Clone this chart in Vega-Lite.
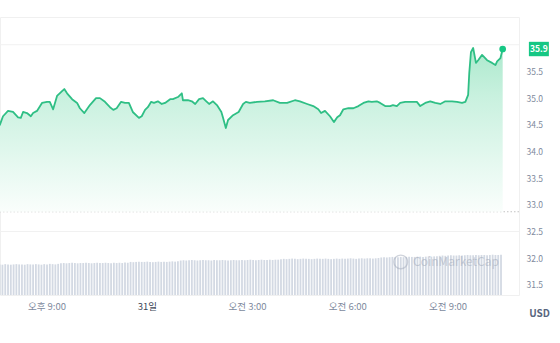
{
  "$schema": "https://vega.github.io/schema/vega-lite/v6.json",
  "width": 519,
  "height": 278,
  "autosize": {"type": "none"},
  "padding": {"left": 0, "top": 17, "right": 41, "bottom": 48},
  "background": "white",
  "config": {"font": "Noto Sans CJK KR", "view": {"stroke": "#f0f0f0"}},
  "datasets": {
    "price": [
      {"m": -265, "v": 34.49}, {"m": -259, "v": 34.66}, {"m": -250, "v": 34.76}, {"m": -241, "v": 34.74},
      {"m": -232, "v": 34.64}, {"m": -227, "v": 34.63}, {"m": -223, "v": 34.74}, {"m": -216, "v": 34.72},
      {"m": -209, "v": 34.66}, {"m": -205, "v": 34.72}, {"m": -198, "v": 34.76}, {"m": -189, "v": 34.91},
      {"m": -180, "v": 34.93}, {"m": -175, "v": 34.93}, {"m": -169, "v": 34.79}, {"m": -162, "v": 35.04},
      {"m": -153, "v": 35.13}, {"m": -149, "v": 35.17}, {"m": -144, "v": 35.09}, {"m": -135, "v": 34.98},
      {"m": -126, "v": 34.91}, {"m": -121, "v": 34.81}, {"m": -113, "v": 34.72}, {"m": -103, "v": 34.87},
      {"m": -92, "v": 35.0}, {"m": -85, "v": 35.0}, {"m": -76, "v": 34.93}, {"m": -67, "v": 34.83},
      {"m": -61, "v": 34.78}, {"m": -55, "v": 34.81}, {"m": -47, "v": 34.93}, {"m": -40, "v": 34.91},
      {"m": -33, "v": 34.91}, {"m": -26, "v": 34.74}, {"m": -15, "v": 34.63}, {"m": -10, "v": 34.66},
      {"m": -4, "v": 34.78}, {"m": 1, "v": 34.83}, {"m": 7, "v": 34.93}, {"m": 12, "v": 34.91},
      {"m": 19, "v": 34.94}, {"m": 26, "v": 34.89}, {"m": 32, "v": 34.91}, {"m": 41, "v": 34.98},
      {"m": 46, "v": 34.98}, {"m": 55, "v": 35.02}, {"m": 62, "v": 35.09}, {"m": 64, "v": 34.96},
      {"m": 73, "v": 34.96}, {"m": 80, "v": 34.94}, {"m": 86, "v": 34.89}, {"m": 93, "v": 34.98},
      {"m": 100, "v": 35.0}, {"m": 106, "v": 34.94}, {"m": 111, "v": 34.89}, {"m": 118, "v": 34.94},
      {"m": 125, "v": 34.87}, {"m": 133, "v": 34.74}, {"m": 136, "v": 34.63}, {"m": 141, "v": 34.44},
      {"m": 145, "v": 34.59}, {"m": 154, "v": 34.68}, {"m": 164, "v": 34.74}, {"m": 172, "v": 34.89},
      {"m": 177, "v": 34.93}, {"m": 184, "v": 34.91}, {"m": 197, "v": 34.93}, {"m": 211, "v": 34.94},
      {"m": 226, "v": 34.96}, {"m": 238, "v": 34.91}, {"m": 251, "v": 34.91}, {"m": 265, "v": 34.96},
      {"m": 274, "v": 34.94}, {"m": 287, "v": 34.89}, {"m": 298, "v": 34.85}, {"m": 307, "v": 34.79},
      {"m": 312, "v": 34.72}, {"m": 319, "v": 34.76}, {"m": 328, "v": 34.66}, {"m": 335, "v": 34.55},
      {"m": 341, "v": 34.64}, {"m": 346, "v": 34.68}, {"m": 352, "v": 34.79}, {"m": 361, "v": 34.81},
      {"m": 370, "v": 34.81}, {"m": 379, "v": 34.85}, {"m": 388, "v": 34.91}, {"m": 397, "v": 34.94},
      {"m": 403, "v": 34.93}, {"m": 412, "v": 34.94}, {"m": 418, "v": 34.91}, {"m": 427, "v": 34.85},
      {"m": 436, "v": 34.85}, {"m": 441, "v": 34.87}, {"m": 448, "v": 34.85}, {"m": 454, "v": 34.91},
      {"m": 463, "v": 34.93}, {"m": 475, "v": 34.93}, {"m": 484, "v": 34.93}, {"m": 490, "v": 34.85},
      {"m": 499, "v": 34.91}, {"m": 508, "v": 34.94}, {"m": 517, "v": 34.91}, {"m": 526, "v": 34.89},
      {"m": 535, "v": 34.94}, {"m": 547, "v": 34.94}, {"m": 556, "v": 34.93}, {"m": 565, "v": 34.91},
      {"m": 571, "v": 34.93}, {"m": 576, "v": 35.06}, {"m": 578, "v": 35.47}, {"m": 581, "v": 35.86},
      {"m": 585, "v": 35.94}, {"m": 590, "v": 35.66}, {"m": 594, "v": 35.71}, {"m": 601, "v": 35.81},
      {"m": 610, "v": 35.71}, {"m": 619, "v": 35.66}, {"m": 625, "v": 35.62}, {"m": 628, "v": 35.69},
      {"m": 634, "v": 35.75}, {"m": 638, "v": 35.92}
    ],
    "vol": [
      {"m": -265, "vol": 11.0}, {"m": -260, "vol": 10.9}, {"m": -255, "vol": 11.1}, {"m": -250, "vol": 11.0},
      {"m": -245, "vol": 10.9}, {"m": -240, "vol": 11.0}, {"m": -235, "vol": 11.1}, {"m": -230, "vol": 11.0},
      {"m": -225, "vol": 11.0}, {"m": -220, "vol": 10.9}, {"m": -215, "vol": 11.1}, {"m": -210, "vol": 11.0},
      {"m": -205, "vol": 11.0}, {"m": -200, "vol": 11.1}, {"m": -195, "vol": 11.0}, {"m": -190, "vol": 10.9},
      {"m": -185, "vol": 11.1}, {"m": -180, "vol": 11.0}, {"m": -175, "vol": 11.2}, {"m": -170, "vol": 11.1},
      {"m": -165, "vol": 11.0}, {"m": -160, "vol": 11.2}, {"m": -155, "vol": 11.4}, {"m": -150, "vol": 11.5},
      {"m": -145, "vol": 11.4}, {"m": -140, "vol": 11.5}, {"m": -135, "vol": 11.6}, {"m": -130, "vol": 11.5},
      {"m": -125, "vol": 11.4}, {"m": -120, "vol": 11.5}, {"m": -115, "vol": 11.5}, {"m": -110, "vol": 11.6},
      {"m": -105, "vol": 11.5}, {"m": -100, "vol": 11.4}, {"m": -95, "vol": 11.5}, {"m": -90, "vol": 11.6},
      {"m": -85, "vol": 11.5}, {"m": -80, "vol": 11.5}, {"m": -75, "vol": 11.6}, {"m": -70, "vol": 11.5},
      {"m": -65, "vol": 11.4}, {"m": -60, "vol": 11.6}, {"m": -55, "vol": 11.5}, {"m": -50, "vol": 11.6},
      {"m": -45, "vol": 11.5}, {"m": -40, "vol": 11.7}, {"m": -35, "vol": 11.6}, {"m": -30, "vol": 11.9},
      {"m": -25, "vol": 11.8}, {"m": -20, "vol": 11.9}, {"m": -15, "vol": 12.0}, {"m": -10, "vol": 11.9},
      {"m": -5, "vol": 11.9}, {"m": 0, "vol": 12.0}, {"m": 5, "vol": 11.9}, {"m": 10, "vol": 11.8},
      {"m": 15, "vol": 11.9}, {"m": 20, "vol": 12.0}, {"m": 25, "vol": 11.9}, {"m": 30, "vol": 12.0},
      {"m": 35, "vol": 11.9}, {"m": 40, "vol": 12.0}, {"m": 45, "vol": 12.1}, {"m": 50, "vol": 12.0},
      {"m": 55, "vol": 12.1}, {"m": 60, "vol": 12.4}, {"m": 65, "vol": 12.5}, {"m": 70, "vol": 12.4},
      {"m": 75, "vol": 12.5}, {"m": 80, "vol": 12.6}, {"m": 85, "vol": 12.5}, {"m": 90, "vol": 12.4},
      {"m": 95, "vol": 12.5}, {"m": 100, "vol": 12.6}, {"m": 105, "vol": 12.5}, {"m": 110, "vol": 12.5},
      {"m": 115, "vol": 12.4}, {"m": 120, "vol": 12.6}, {"m": 125, "vol": 12.5}, {"m": 130, "vol": 12.5},
      {"m": 135, "vol": 12.6}, {"m": 140, "vol": 12.5}, {"m": 145, "vol": 12.4}, {"m": 150, "vol": 12.5},
      {"m": 155, "vol": 12.6}, {"m": 160, "vol": 12.5}, {"m": 165, "vol": 12.5}, {"m": 170, "vol": 12.6},
      {"m": 175, "vol": 12.5}, {"m": 180, "vol": 12.6}, {"m": 185, "vol": 12.7}, {"m": 190, "vol": 12.6},
      {"m": 195, "vol": 12.5}, {"m": 200, "vol": 12.6}, {"m": 205, "vol": 12.7}, {"m": 210, "vol": 12.6},
      {"m": 215, "vol": 12.6}, {"m": 220, "vol": 12.7}, {"m": 225, "vol": 12.6}, {"m": 230, "vol": 12.7},
      {"m": 235, "vol": 12.7}, {"m": 240, "vol": 12.9}, {"m": 245, "vol": 13.0}, {"m": 250, "vol": 12.9},
      {"m": 255, "vol": 13.0}, {"m": 260, "vol": 13.1}, {"m": 265, "vol": 13.0}, {"m": 270, "vol": 12.9},
      {"m": 275, "vol": 13.0}, {"m": 280, "vol": 13.1}, {"m": 285, "vol": 13.0}, {"m": 290, "vol": 13.0},
      {"m": 295, "vol": 12.9}, {"m": 300, "vol": 13.0}, {"m": 305, "vol": 13.1}, {"m": 310, "vol": 13.0},
      {"m": 315, "vol": 13.0}, {"m": 320, "vol": 13.1}, {"m": 325, "vol": 13.0}, {"m": 330, "vol": 12.9},
      {"m": 335, "vol": 13.0}, {"m": 340, "vol": 13.1}, {"m": 345, "vol": 13.0}, {"m": 350, "vol": 13.1},
      {"m": 355, "vol": 13.0}, {"m": 360, "vol": 13.1}, {"m": 365, "vol": 13.2}, {"m": 370, "vol": 13.1},
      {"m": 375, "vol": 13.0}, {"m": 380, "vol": 13.1}, {"m": 385, "vol": 13.2}, {"m": 390, "vol": 13.1},
      {"m": 395, "vol": 13.2}, {"m": 400, "vol": 13.2}, {"m": 405, "vol": 13.1}, {"m": 410, "vol": 13.2},
      {"m": 415, "vol": 13.3}, {"m": 420, "vol": 13.5}, {"m": 425, "vol": 13.6}, {"m": 430, "vol": 13.5},
      {"m": 435, "vol": 13.6}, {"m": 440, "vol": 13.7}, {"m": 445, "vol": 13.6}, {"m": 450, "vol": 13.6},
      {"m": 455, "vol": 13.7}, {"m": 460, "vol": 13.6}, {"m": 465, "vol": 13.7}, {"m": 470, "vol": 13.8},
      {"m": 475, "vol": 13.7}, {"m": 480, "vol": 13.7}, {"m": 485, "vol": 13.8}, {"m": 490, "vol": 13.8},
      {"m": 495, "vol": 13.7}, {"m": 500, "vol": 13.8}, {"m": 505, "vol": 13.9}, {"m": 510, "vol": 13.8},
      {"m": 515, "vol": 13.9}, {"m": 520, "vol": 13.9}, {"m": 525, "vol": 14.1}, {"m": 530, "vol": 14.2},
      {"m": 535, "vol": 14.1}, {"m": 540, "vol": 14.2}, {"m": 545, "vol": 14.3}, {"m": 550, "vol": 14.2},
      {"m": 555, "vol": 14.2}, {"m": 560, "vol": 14.3}, {"m": 565, "vol": 14.2}, {"m": 570, "vol": 14.3},
      {"m": 575, "vol": 14.4}, {"m": 580, "vol": 14.3}, {"m": 585, "vol": 14.3}, {"m": 590, "vol": 14.4},
      {"m": 595, "vol": 14.3}, {"m": 600, "vol": 14.4}, {"m": 605, "vol": 14.4}, {"m": 610, "vol": 14.3},
      {"m": 615, "vol": 14.4}, {"m": 620, "vol": 14.5}, {"m": 625, "vol": 14.4}, {"m": 630, "vol": 14.4},
      {"m": 635, "vol": 14.5}
    ],
    "grid": [{"g": 36.0}, {"g": 32.5}],
    "ref": [{"ref": 32.87}],
    "wm": [{"label": "CoinMarketCap"}],
    "ticks": [
      {"t": -180, "label": "오후 9:00"},
      {"t": 0, "label": "31일"},
      {"t": 180, "label": "오전 3:00"},
      {"t": 360, "label": "오전 6:00"},
      {"t": 540, "label": "오전 9:00"}
    ]
  },
  "layer": [
    {
      "data": {"name": "vol"},
      "mark": {"type": "bar", "color": "#d3d9e3", "size": 1.8},
      "encoding": {
        "x": {
          "field": "m", "type": "quantitative",
          "scale": {"domain": [-264.4, 667.3], "nice": false, "zero": false, "padding": 0},
          "axis": null
        },
        "y": {"field": "vol", "type": "quantitative", "scale": {"domain": [0, 100]}, "axis": null}
      }
    },
    {
      "data": {"name": "grid"},
      "mark": {"type": "rule", "color": "#f1f1f1", "strokeWidth": 1},
      "encoding": {
        "y": {"field": "g", "type": "quantitative", "scale": {"domain": [31.31, 36.52], "nice": false, "zero": false}, "axis": null}
      }
    },
    {
      "data": {"name": "ref"},
      "mark": {"type": "rule", "color": "#c2c2c2", "strokeWidth": 1, "strokeDash": [1.5, 2]},
      "encoding": {
        "y": {"field": "ref", "type": "quantitative", "scale": {"domain": [31.31, 36.52], "nice": false, "zero": false}, "axis": null}
      }
    },
    {
      "data": {"name": "price"},
      "mark": {
        "type": "area",
        "color": {
          "gradient": "linear", "x1": 0, "y1": 0, "x2": 0, "y2": 1,
          "stops": [
            {"offset": 0, "color": "#ace9cd"},
            {"offset": 0.3, "color": "#c9f1df"},
            {"offset": 1, "color": "#fafefc"}
          ]
        }
      },
      "encoding": {
        "x": {"field": "m", "type": "quantitative", "axis": null},
        "y": {"field": "v", "type": "quantitative", "scale": {"domain": [31.31, 36.52], "nice": false, "zero": false}, "axis": null},
        "y2": {"datum": 32.87}
      }
    },
    {
      "data": {"name": "price"},
      "mark": {"type": "line", "color": "#2fbf85", "strokeWidth": 1.8, "strokeJoin": "round"},
      "encoding": {
        "x": {"field": "m", "type": "quantitative", "axis": null},
        "y": {
          "field": "v", "type": "quantitative",
          "scale": {"domain": [31.31, 36.52], "nice": false, "zero": false},
          "axis": {
            "orient": "right",
            "values": [31.5, 32, 32.5, 33, 33.5, 34, 34.5, 35, 35.5],
            "format": ".1f", "grid": false, "ticks": false, "domain": false,
            "labelPadding": 7, "labelFontSize": 8.5, "labelColor": "#808a9d",
            "labelFlush": false, "labelOverlap": false,
            "title": "USD", "titleAngle": 0, "titleX": 20, "titleY": 296,
            "titleAlign": "center", "titleBaseline": "middle",
            "titleFontSize": 10, "titleFontWeight": "bold", "titleColor": "#58667e"
          }
        }
      }
    },
    {
      "data": {"name": "ticks"},
      "mark": {"type": "text", "fontSize": 9.5, "baseline": "top", "align": "center", "yOffset": 7},
      "encoding": {
        "x": {"field": "t", "type": "quantitative", "axis": null},
        "y": {"datum": 31.31, "type": "quantitative", "scale": {"domain": [31.31, 36.52], "nice": false, "zero": false}, "axis": null},
        "text": {"field": "label"},
        "color": {"condition": {"test": "datum.t == 0", "value": "#3d4656"}, "value": "#808a9d"},
        "fontWeight": {"condition": {"test": "datum.t == 0", "value": "bold"}, "value": "normal"}
      }
    },
    {
      "data": {"name": "price"},
      "transform": [{"filter": "datum.m == 638"}],
      "mark": {"type": "circle", "color": "#16c784", "size": 45, "opacity": 1},
      "encoding": {
        "x": {"field": "m", "type": "quantitative", "axis": null},
        "y": {"field": "v", "type": "quantitative", "scale": {"domain": [31.31, 36.52], "nice": false, "zero": false}, "axis": null}
      }
    },
    {
      "data": {"name": "price"},
      "transform": [{"filter": "datum.m == 638"}],
      "mark": {"type": "point", "shape": "M-1,-0.72H1V0.72H-1Z", "filled": true, "color": "#16c784", "size": 400, "opacity": 1},
      "encoding": {
        "x": {"datum": 703, "type": "quantitative", "axis": null},
        "y": {"field": "v", "type": "quantitative", "scale": {"domain": [31.31, 36.52], "nice": false, "zero": false}, "axis": null}
      }
    },
    {
      "data": {"name": "price"},
      "transform": [{"filter": "datum.m == 638"}],
      "mark": {"type": "text", "color": "white", "fontSize": 8.5, "fontWeight": "bold", "align": "center", "baseline": "middle"},
      "encoding": {
        "x": {"datum": 703, "type": "quantitative", "axis": null},
        "y": {"field": "v", "type": "quantitative", "scale": {"domain": [31.31, 36.52], "nice": false, "zero": false}, "axis": null},
        "text": {"field": "v", "type": "quantitative", "format": ".1f"}
      }
    },
    {
      "data": {"name": "wm"},
      "mark": {"type": "point", "filled": false, "color": "#a3abbb", "size": 190, "strokeWidth": 1.3, "opacity": 0.5},
      "encoding": {
        "x": {"datum": 455, "type": "quantitative", "axis": null},
        "y": {"datum": 31.93, "type": "quantitative", "scale": {"domain": [31.31, 36.52], "nice": false, "zero": false}, "axis": null}
      }
    },
    {
      "data": {"name": "wm"},
      "mark": {"type": "text", "color": "#a3abbb", "fontSize": 12, "align": "left", "baseline": "middle", "opacity": 0.55},
      "encoding": {
        "x": {"datum": 477, "type": "quantitative", "axis": null},
        "y": {"datum": 31.93, "type": "quantitative", "scale": {"domain": [31.31, 36.52], "nice": false, "zero": false}, "axis": null},
        "text": {"field": "label"}
      }
    }
  ],
  "resolve": {"scale": {"y": "independent"}, "axis": {"y": "independent"}}
}
